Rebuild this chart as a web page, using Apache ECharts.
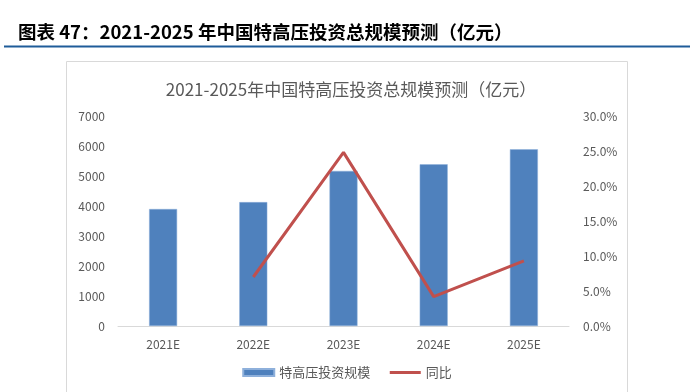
<!DOCTYPE html>
<html><head><meta charset="utf-8">
<script src="https://cdn.jsdelivr.net/npm/echarts@6/dist/echarts.min.js"></script>
<style>html,body{margin:0;padding:0;background:#fff}#c{width:694px;height:392px}</style>
</head><body><div id="c"></div>
<script>
const categories = ['2021E','2022E','2023E','2024E','2025E'];
const investment = [3900, 4130, 5170, 5390, 5890];
const yoy = [null, 7.0, 24.8, 4.2, 9.3];
const leftTicks = [0,1000,2000,3000,4000,5000,6000,7000];
const rightTicks = [0,5,10,15,20,25,30];

const chart = echarts.init(document.getElementById('c'));
const font = '"Noto Sans CJK SC", "Noto Sans", sans-serif';
chart.setOption({
  animation: false,
  textStyle: {fontFamily: font},
  title: [{
    text: '图表 47：2021-2025 年中国特高压投资总规模预测（亿元）',
    left: 13, top: 18,
    textStyle: {fontSize: 18.5, fontWeight: 'bold', color: '#000', fontFamily: font}
  },{
    text: '2021-2025年中国特高压投资总规模预测（亿元）',
    left: 346, textAlign: 'center', top: 76,
    textStyle: {fontSize: 17, fontWeight: 'normal', color: '#595959', fontFamily: font}
  }],
  graphic: [
    {type: 'line', shape: {x1: 4, y1: 46.5, x2: 690, y2: 46.5}, style: {stroke: '#1f5c99', lineWidth: 2}},
    {type: 'rect', shape: {x: 66.5, y: 61.5, width: 561, height: 340}, style: {fill: 'none', stroke: '#d9d9d9', lineWidth: 1}, z: -1}
  ],
  legend: {
    bottom: 8, left: 'center',
    itemGap: 18,
    textStyle: {fontSize: 13, color: '#595959', fontFamily: font},
    data: [
      {name: '特高压投资规模', icon: 'rect', itemStyle: {color: '#4f81bd'}},
      {name: '同比', itemStyle: {opacity: 0}, lineStyle: {color: '#c0504d', width: 3}}
    ],
    itemWidth: 31, itemHeight: 7
  },
  grid: {left: 118, right: 125, top: 116, bottom: 66, containLabel: false},
  xAxis: {
    type: 'category', data: categories,
    axisLine: {lineStyle: {color: '#d9d9d9', width: 1}},
    axisTick: {show: false},
    axisLabel: {color: '#595959', fontSize: 12, margin: 12}
  },
  yAxis: [{
    type: 'value', min: leftTicks[0], max: leftTicks[leftTicks.length-1], interval: 1000,
    splitLine: {show: false}, axisLine: {show: false}, axisTick: {show: false},
    axisLabel: {color: '#595959', fontSize: 12, margin: 13, formatter: v => String(v)}
  },{
    type: 'value', min: rightTicks[0], max: rightTicks[rightTicks.length-1], interval: 5,
    splitLine: {show: false}, axisLine: {show: false}, axisTick: {show: false},
    axisLabel: {color: '#595959', fontSize: 12, margin: 14, formatter: v => v.toFixed(1) + '%'}
  }],
  series: [{
    name: '特高压投资规模', type: 'bar', data: investment, barWidth: 28,
    itemStyle: {color: '#4f81bd', borderColor: '#8eb0db', borderWidth: 0.5}
  },{
    name: '同比', type: 'line', yAxisIndex: 1, data: yoy,
    symbol: 'none', lineStyle: {color: '#c0504d', width: 3}, itemStyle: {color: '#c0504d'}
  }]
});
</script></body></html>
